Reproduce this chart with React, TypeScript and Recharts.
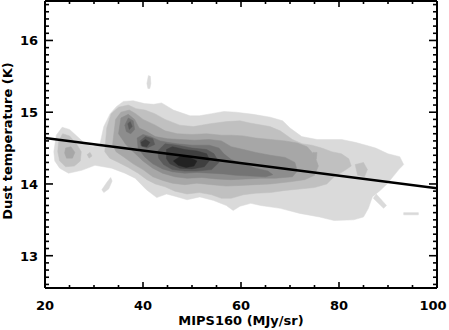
import { ScatterChart, Scatter, XAxis, YAxis } from 'recharts';

// axes
const xDomain: [number, number] = [20, 100];
const yDomain: [number, number] = [12.55, 16.55];
const xMajor = [20, 40, 60, 80, 100];
const yMajor = [13, 14, 15, 16];
const xTitle = 'MIPS160 (MJy/sr)';
const yTitle = 'Dust temperature (K)';

// fitted line
const fitX = [20, 100];
const fitY = [14.64, 13.94];

// contour levels, lightest first. each level = list of rings of [MIPS160, Tdust]
const levelGrays = ['#dadada', '#c0c0c0', '#a7a7a7', '#8d8d8d', '#747474', '#5a5a5a', '#3f3f3f', '#222222'];

const level1 = [
  [[21.8,14.45],[22.3,14.68],[23.5,14.79],[25.0,14.76],[26.6,14.66],[28.2,14.56],[29.8,14.52],[31.2,14.55],[32.0,14.80],[33.3,14.98],[34.6,15.08],[36.0,15.15],[38.0,15.16],[40.3,15.12],[42.2,15.11],[43.8,15.13],[46.2,15.03],[49.6,14.95],[51.5,14.95],[54.0,14.98],[56.5,15.01],[59.0,15.00],[62.5,14.97],[66.0,14.93],[68.5,14.88],[70.0,14.78],[72.4,14.66],[75.5,14.62],[80.5,14.62],[83.3,14.58],[85.5,14.54],[87.5,14.50],[90.0,14.42],[92.4,14.38],[93.2,14.27],[92.2,14.20],[91.0,14.10],[89.8,14.00],[88.4,13.91],[86.8,13.82],[86.0,13.66],[85.0,13.54],[83.0,13.50],[79.0,13.49],[76.0,13.54],[72.0,13.59],[68.0,13.66],[64.0,13.70],[62.0,13.73],[59.8,13.69],[58.4,13.63],[57.0,13.70],[54.4,13.77],[51.6,13.82],[49.0,13.78],[46.5,13.83],[44.8,13.86],[42.8,13.81],[40.7,13.92],[38.4,14.08],[36.3,14.15],[33.6,14.22],[30.2,14.26],[27.5,14.19],[24.8,14.15],[23.0,14.22],[22.0,14.32]],
  [[40.8,15.40],[41.1,15.51],[41.5,15.50],[41.6,15.40],[41.4,15.33],[41.0,15.33]],
  [[31.6,13.92],[32.6,14.02],[33.4,14.09],[33.7,14.04],[33.0,13.93],[32.0,13.88]],
  [[87.0,13.80],[87.6,13.86],[89.7,13.70],[89.1,13.66]],
  [[93.2,13.60],[96.2,13.60],[96.2,13.57],[93.2,13.57]],
];

const level2 = [
  [[22.8,14.60],[23.6,14.70],[25.0,14.67],[26.5,14.55],[27.4,14.45],[27.2,14.32],[26.0,14.25],[24.2,14.24],[23.0,14.32],[22.6,14.45]],
  [[28.6,14.41],[29.2,14.44],[29.6,14.39],[29.0,14.36]],
  [[32.2,14.45],[32.6,14.78],[33.5,14.98],[35.0,15.07],[37.0,15.10],[38.6,15.05],[40.4,15.03],[42.4,14.98],[44.5,14.90],[47.5,14.82],[50.3,14.80],[53.7,14.84],[57.1,14.87],[59.8,14.88],[61.8,14.85],[65.9,14.80],[68.0,14.74],[70.5,14.62],[72.5,14.56],[74.5,14.54],[76.5,14.50],[78.5,14.45],[80.5,14.42],[82.0,14.35],[82.5,14.25],[81.0,14.18],[79.0,14.10],[77.5,14.00],[75.0,13.95],[72.0,13.93],[69.0,13.91],[66.0,13.88],[63.0,13.87],[60.5,13.85],[58.0,13.80],[56.0,13.80],[54.0,13.85],[51.5,13.88],[49.0,13.86],[46.5,13.90],[44.5,13.96],[42.5,14.00],[40.8,14.06],[39.0,14.15],[37.0,14.23],[35.0,14.30],[33.2,14.36]],
  [[83.3,14.27],[85.0,14.30],[85.8,14.20],[85.2,14.10],[83.8,14.12]],
];

const level3 = [
  [[24.0,14.43],[24.2,14.50],[25.3,14.52],[26.1,14.44],[25.6,14.36],[24.4,14.36]],
  [[33.8,14.55],[34.4,14.90],[35.5,15.00],[37.2,15.03],[38.5,14.98],[40.0,14.90],[42.5,14.82],[44.5,14.74],[47.0,14.70],[50.0,14.69],[53.0,14.70],[56.0,14.68],[58.0,14.68],[60.5,14.67],[63.0,14.64],[66.0,14.62],[69.0,14.60],[71.5,14.57],[73.5,14.52],[75.0,14.40],[75.8,14.25],[75.0,14.12],[73.0,14.06],[70.0,14.03],[66.0,14.00],[63.0,13.99],[60.0,13.98],[57.0,13.97],[54.0,13.99],[51.0,14.01],[48.5,13.99],[46.0,14.01],[44.0,14.05],[42.0,14.10],[40.0,14.20],[38.0,14.28],[36.0,14.38],[34.5,14.45]],
  [[74.7,14.44],[75.5,14.44],[75.4,14.35],[74.8,14.36]],
];

const level4 = [
  [[35.0,14.70],[35.5,14.92],[37.0,14.97],[38.3,14.90],[39.2,14.78],[40.5,14.74],[42.5,14.66],[45.0,14.63],[47.5,14.62],[50.5,14.61],[53.5,14.62],[56.0,14.60],[58.0,14.52],[60.5,14.48],[63.0,14.44],[66.0,14.40],[69.0,14.37],[71.0,14.30],[71.5,14.18],[70.5,14.10],[67.0,14.08],[64.0,14.08],[61.0,14.07],[58.0,14.06],[55.0,14.07],[52.0,14.09],[49.0,14.08],[46.5,14.10],[44.0,14.15],[42.0,14.22],[40.0,14.32],[38.0,14.45],[36.5,14.55]],
];

const level5 = [
  [[36.3,14.82],[37.0,14.92],[38.0,14.88],[38.3,14.76],[37.5,14.70],[36.6,14.73]],
  [[39.0,14.50],[38.8,14.64],[40.0,14.69],[41.5,14.66],[43.5,14.60],[45.0,14.58],[47.0,14.56],[50.0,14.54],[53.5,14.54],[55.5,14.50],[56.5,14.42],[58.0,14.34],[60.5,14.28],[63.0,14.22],[65.5,14.18],[66.5,14.13],[65.0,14.10],[62.0,14.11],[59.0,14.12],[56.5,14.14],[54.0,14.15],[51.0,14.16],[48.5,14.15],[46.0,14.17],[44.0,14.21],[42.0,14.28],[40.3,14.38]],
];

const level6 = [
  [[36.9,14.84],[37.4,14.87],[37.8,14.80],[37.2,14.76]],
  [[39.4,14.60],[40.5,14.66],[42.0,14.63],[42.4,14.55],[40.8,14.50],[39.6,14.53]],
  [[43.2,14.36],[43.0,14.46],[44.5,14.56],[47.0,14.54],[50.0,14.50],[53.0,14.48],[54.5,14.42],[55.5,14.30],[54.0,14.20],[51.0,14.18],[48.5,14.18],[46.0,14.20],[44.2,14.27]],
];

const level7 = [
  [[39.6,14.58],[40.5,14.62],[41.4,14.58],[40.8,14.52],[39.8,14.53]],
  [[44.8,14.35],[44.8,14.48],[46.0,14.52],[48.5,14.48],[51.0,14.46],[53.0,14.42],[53.6,14.33],[52.5,14.24],[50.0,14.21],[47.5,14.22],[45.5,14.28]],
];

const level8 = [
  [[46.2,14.32],[47.5,14.38],[49.5,14.37],[51.0,14.32],[50.4,14.25],[48.8,14.23],[47.2,14.26]],
];

const levels = [level1, level2, level3, level4, level5, level6, level7, level8];

// minor tick positions
const xTicks: number[] = [];
for (let v = 20; v <= 100; v += 5) xTicks.push(v);
const yTicks: number[] = [];
for (let i = 126; i <= 165; i++) yTicks.push(i / 10);

const FONT = '"DejaVu Sans", Arial, sans-serif';
const isMajor = (v: number, majors: number[]) => majors.some((m) => Math.abs(m - v) < 1e-6);

function LeftTick({ x, y, payload }: any) {
  const major = isMajor(payload.value, yMajor);
  return (
    <g>
      <line x1={x} y1={y} x2={x + (major ? 8 : 4)} y2={y} stroke="#000" strokeWidth={1.6} />
      {major && (
        <text x={x - 7} y={y + 4.8} textAnchor="end" fontFamily={FONT} fontWeight={700} fontSize={13} fill="#000">
          {payload.value}
        </text>
      )}
    </g>
  );
}

function RightTick({ x, y, payload }: any) {
  const major = isMajor(payload.value, yMajor);
  return <line x1={x} y1={y} x2={x - (major ? 8 : 4)} y2={y} stroke="#000" strokeWidth={1.6} />;
}

function BottomTick({ x, y, payload }: any) {
  const major = isMajor(payload.value, xMajor);
  // keep the last label ("100") inside the picture
  const tx = Math.min(x, 433);
  return (
    <g>
      <line x1={x} y1={y} x2={x} y2={y - (major ? 6 : 3)} stroke="#000" strokeWidth={1.6} />
      {major && (
        <text x={tx} y={y + 22} textAnchor="middle" fontFamily={FONT} fontWeight={700} fontSize={13} fill="#000">
          {payload.value}
        </text>
      )}
    </g>
  );
}

function TopTick({ x, y, payload }: any) {
  const major = isMajor(payload.value, xMajor);
  return <line x1={x} y1={y} x2={x} y2={y + (major ? 6 : 3)} stroke="#000" strokeWidth={1.6} />;
}

const polygonLine = (color: string) => (props: any) => {
  const pts = props.points || [];
  if (!pts.length) return <g />;
  const d = pts.map((p: any, i: number) => `${i ? 'L' : 'M'}${p.x},${p.y}`).join(' ') + ' Z';
  return <path d={d} fill={color} stroke={color} strokeWidth={0.5} />;
};

const noDot = () => <g />;
const axisLine = { stroke: '#000', strokeWidth: 2 };

export default function App() {
  const rings: { key: string; color: string; data: { x: number; y: number }[] }[] = [];
  levels.forEach((lvl, li) =>
    lvl.forEach((ring, ri) =>
      rings.push({
        key: `l${li}r${ri}`,
        color: levelGrays[li],
        data: ring.map(([x, y]) => ({ x, y })),
      })
    )
  );
  const fitData = fitX.map((x, i) => ({ x, y: fitY[i] }));

  return (
    <div style={{ position: 'absolute', left: 0, top: 0, width: 449, height: 330, background: '#fff' }}>
      <ScatterChart width={449} height={330} margin={{ top: 0, right: 0, bottom: 0, left: 0 }}>
        <XAxis xAxisId="b" dataKey="x" type="number" domain={xDomain} allowDataOverflow ticks={xTicks} interval={0}
          tickSize={0} tickMargin={0} tickLine={false} tick={BottomTick} axisLine={axisLine} height={42} />
        <XAxis xAxisId="t" orientation="top" dataKey="x" type="number" domain={xDomain} allowDataOverflow ticks={xTicks} interval={0}
          tickSize={0} tickMargin={0} tickLine={false} tick={TopTick} axisLine={axisLine} height={1} />
        <YAxis yAxisId="l" dataKey="y" type="number" domain={yDomain} allowDataOverflow ticks={yTicks} interval={0}
          tickSize={0} tickMargin={0} tickLine={false} tick={LeftTick} axisLine={axisLine} width={45} />
        <YAxis yAxisId="r" orientation="right" dataKey="y" type="number" domain={yDomain} allowDataOverflow ticks={yTicks} interval={0}
          tickSize={0} tickMargin={0} tickLine={false} tick={RightTick} axisLine={axisLine} width={12} />
        {rings.map((r) => (
          <Scatter key={r.key} xAxisId="b" yAxisId="l" data={r.data} line={polygonLine(r.color)} shape={noDot}
            isAnimationActive={false} legendType="none" />
        ))}
        <Scatter xAxisId="b" yAxisId="l" data={fitData} line={{ stroke: '#000', strokeWidth: 2.5 }} shape={noDot}
          isAnimationActive={false} legendType="none" />
      </ScatterChart>
      <svg width={449} height={330} style={{ position: 'absolute', left: 0, top: 0, pointerEvents: 'none' }}>
        <text x={241} y={325} textAnchor="middle" fontFamily={FONT} fontWeight={700} fontSize={13} fill="#000">{xTitle}</text>
        <text x={12} y={141} textAnchor="middle" transform="rotate(-90 12 141)" fontFamily={FONT} fontWeight={700} fontSize={13} fill="#000">{yTitle}</text>
      </svg>
    </div>
  );
}
